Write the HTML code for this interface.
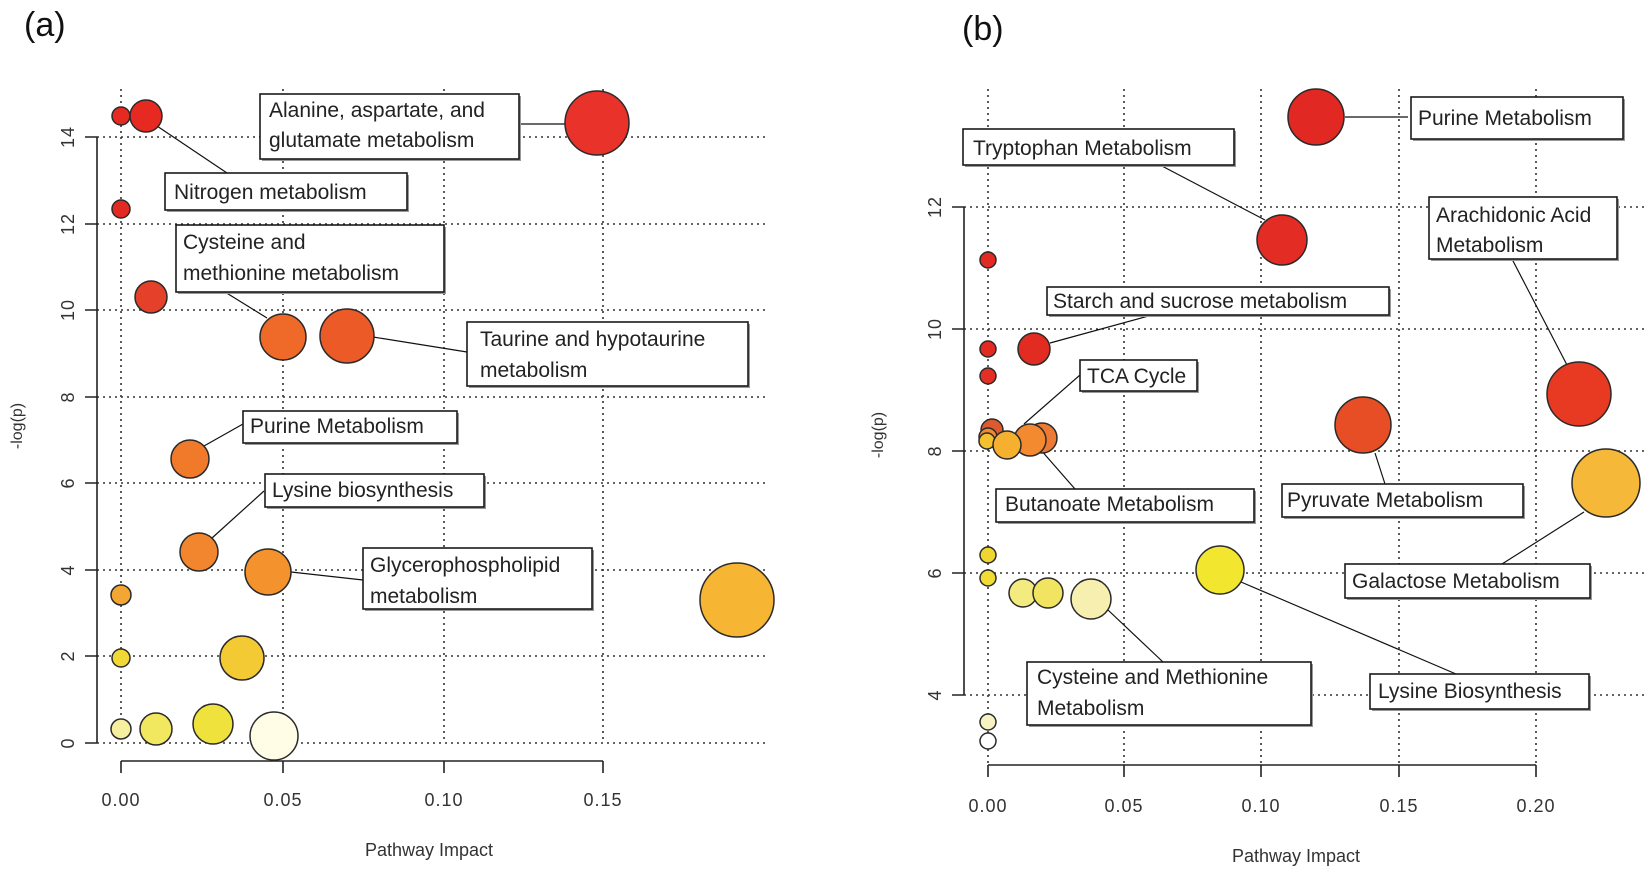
<!DOCTYPE html>
<html><head><meta charset="utf-8"><style>
html,body{margin:0;padding:0;background:#fff;}
svg{display:block;}
text{font-family:"Liberation Sans",sans-serif;}
.g{stroke:#333;stroke-width:1.6;stroke-dasharray:2,4;fill:none;}
.ax{stroke:#222;stroke-width:1.6;fill:none;}
.tk{font-size:18px;fill:#333;letter-spacing:1px;}
.lb{font-size:21px;fill:#222;}
.bx{fill:#fff;stroke:#1a1a1a;stroke-width:1.6;}
.sh{fill:#999;}
.ln{stroke:#111;stroke-width:1.2;}
circle{stroke:#2a2a2a;stroke-width:1.5;}
</style></head><body>
<svg width="1650" height="874" viewBox="0 0 1650 874" xmlns="http://www.w3.org/2000/svg">
<rect width="1650" height="874" fill="#fff"/>
<text x="24" y="36" font-size="34" fill="#111">(a)</text>
<g class="g">
<line x1="121" y1="89" x2="121" y2="743"/>
<line x1="283" y1="89" x2="283" y2="743"/>
<line x1="444" y1="89" x2="444" y2="743"/>
<line x1="603" y1="89" x2="603" y2="743"/>
<line x1="97" y1="743" x2="768" y2="743"/>
<line x1="97" y1="656" x2="768" y2="656"/>
<line x1="97" y1="570" x2="768" y2="570"/>
<line x1="97" y1="483" x2="768" y2="483"/>
<line x1="97" y1="397" x2="768" y2="397"/>
<line x1="97" y1="310" x2="768" y2="310"/>
<line x1="97" y1="224" x2="768" y2="224"/>
<line x1="97" y1="137" x2="768" y2="137"/>
</g>
<path class="ax" d="M97,137 V743 M85,743 H97 M85,656 H97 M85,570 H97 M85,483 H97 M85,397 H97 M85,310 H97 M85,224 H97 M85,137 H97"/>
<path class="ax" d="M121,761 H603 M121,761 V773 M283,761 V773 M444,761 V773 M603,761 V773"/>
<g class="tk" text-anchor="middle">
<text x="121" y="806">0.00</text><text x="283" y="806">0.05</text><text x="444" y="806">0.10</text><text x="603" y="806">0.15</text>
<text transform="translate(74,743) rotate(-90)">0</text>
<text transform="translate(74,656) rotate(-90)">2</text>
<text transform="translate(74,570) rotate(-90)">4</text>
<text transform="translate(74,483) rotate(-90)">6</text>
<text transform="translate(74,397) rotate(-90)">8</text>
<text transform="translate(74,310) rotate(-90)">10</text>
<text transform="translate(74,224) rotate(-90)">12</text>
<text transform="translate(74,137) rotate(-90)">14</text>
</g>
<text x="429" y="856" font-size="18" fill="#333" text-anchor="middle">Pathway Impact</text>
<text transform="translate(22,426) rotate(-90)" font-size="16" fill="#333" text-anchor="middle">-log(p)</text>
<g class="ln">
<line x1="519" y1="124" x2="566" y2="124"/>
<line x1="154" y1="124" x2="227" y2="173"/>
<line x1="225" y1="292" x2="267" y2="318"/>
<line x1="373" y1="337" x2="467" y2="352"/>
<line x1="204" y1="446" x2="243" y2="424"/>
<line x1="212" y1="538" x2="264" y2="491"/>
<line x1="291" y1="572" x2="363" y2="580"/>
</g>
<circle cx="121" cy="116" r="9" fill="#e62a22"/>
<circle cx="146" cy="116" r="16" fill="#e62a22"/>
<circle cx="597" cy="123" r="32" fill="#e8322a"/>
<circle cx="121" cy="209" r="9" fill="#e22a22"/>
<circle cx="151" cy="297" r="16" fill="#e4402a"/>
<circle cx="283" cy="337" r="23" fill="#ef6a28"/>
<circle cx="347" cy="336" r="27" fill="#ec5a28"/>
<circle cx="190" cy="459" r="19" fill="#f07a2a"/>
<circle cx="199" cy="552" r="19" fill="#f2862e"/>
<circle cx="268" cy="572" r="23" fill="#f4922e"/>
<circle cx="121" cy="595" r="10" fill="#f3a634"/>
<circle cx="737" cy="600" r="37" fill="#f6b533"/>
<circle cx="121" cy="658" r="9" fill="#f2d834"/>
<circle cx="242" cy="658" r="22" fill="#f4ca34"/>
<circle cx="121" cy="729" r="10" fill="#f7efa0"/>
<circle cx="156" cy="729" r="16" fill="#f2e860"/>
<circle cx="213" cy="724" r="20" fill="#f0e23c"/>
<circle cx="274" cy="736" r="24" fill="#fffde6"/>
<g>
<rect class="sh" x="262" y="96" width="259" height="65"/><rect class="bx" x="260" y="94" width="259" height="65"/>
<text class="lb" x="269" y="117">Alanine, aspartate, and</text><text class="lb" x="269" y="147">glutamate metabolism</text>
<rect class="sh" x="167" y="175" width="242" height="37"/><rect class="bx" x="165" y="173" width="242" height="37"/>
<text class="lb" x="174" y="199">Nitrogen metabolism</text>
<rect class="sh" x="178" y="227" width="268" height="67"/><rect class="bx" x="176" y="225" width="268" height="67"/>
<text class="lb" x="183" y="249">Cysteine and</text><text class="lb" x="183" y="280">methionine metabolism</text>
<rect class="sh" x="469" y="324" width="281" height="64"/><rect class="bx" x="467" y="322" width="281" height="64"/>
<text class="lb" x="480" y="346">Taurine and hypotaurine</text><text class="lb" x="480" y="377">metabolism</text>
<rect class="sh" x="245" y="413" width="214" height="32"/><rect class="bx" x="243" y="411" width="214" height="32"/>
<text class="lb" x="250" y="433">Purine Metabolism</text>
<rect class="sh" x="267" y="476" width="219" height="33"/><rect class="bx" x="265" y="474" width="219" height="33"/>
<text class="lb" x="272" y="497">Lysine biosynthesis</text>
<rect class="sh" x="365" y="550" width="229" height="61"/><rect class="bx" x="363" y="548" width="229" height="61"/>
<text class="lb" x="370" y="572">Glycerophospholipid</text><text class="lb" x="370" y="603">metabolism</text>
</g>

<text x="962" y="40" font-size="34" fill="#111">(b)</text>
<g class="g">
<line x1="988" y1="89" x2="988" y2="765"/>
<line x1="1124" y1="89" x2="1124" y2="765"/>
<line x1="1261" y1="89" x2="1261" y2="765"/>
<line x1="1399" y1="89" x2="1399" y2="765"/>
<line x1="1536" y1="89" x2="1536" y2="765"/>
<line x1="964" y1="695" x2="1648" y2="695"/>
<line x1="964" y1="573" x2="1648" y2="573"/>
<line x1="964" y1="451" x2="1648" y2="451"/>
<line x1="964" y1="329" x2="1648" y2="329"/>
<line x1="964" y1="207" x2="1648" y2="207"/>
</g>
<path class="ax" d="M964,207 V695 M952,695 H964 M952,573 H964 M952,451 H964 M952,329 H964 M952,207 H964"/>
<path class="ax" d="M988,765 H1536 M988,765 V777 M1124,765 V777 M1261,765 V777 M1399,765 V777 M1536,765 V777"/>
<g class="tk" text-anchor="middle">
<text x="988" y="812">0.00</text><text x="1124" y="812">0.05</text><text x="1261" y="812">0.10</text><text x="1399" y="812">0.15</text><text x="1536" y="812">0.20</text>
<text transform="translate(941,695) rotate(-90)">4</text>
<text transform="translate(941,573) rotate(-90)">6</text>
<text transform="translate(941,451) rotate(-90)">8</text>
<text transform="translate(941,329) rotate(-90)">10</text>
<text transform="translate(941,207) rotate(-90)">12</text>
</g>
<text x="1296" y="862" font-size="18" fill="#333" text-anchor="middle">Pathway Impact</text>
<text transform="translate(883,435) rotate(-90)" font-size="16" fill="#333" text-anchor="middle">-log(p)</text>
<g class="ln">
<line x1="1345" y1="117" x2="1408" y2="117"/>
<line x1="1160" y1="165" x2="1265" y2="220"/>
<line x1="1512" y1="259" x2="1567" y2="365"/>
<line x1="1050" y1="343" x2="1152" y2="315"/>
<line x1="1024" y1="424" x2="1080" y2="375"/>
<line x1="1040" y1="449" x2="1075" y2="489"/>
<line x1="1375" y1="453" x2="1385" y2="484"/>
<line x1="1502" y1="564" x2="1584" y2="512"/>
<line x1="1241" y1="582" x2="1456" y2="674"/>
<line x1="1108" y1="610" x2="1163" y2="662"/>
</g>
<circle cx="1316" cy="117" r="28" fill="#e12822"/>
<circle cx="1282" cy="240" r="25" fill="#e22c24"/>
<circle cx="988" cy="260" r="8" fill="#e22a22"/>
<circle cx="1034" cy="349" r="16" fill="#e22c22"/>
<circle cx="988" cy="349" r="8" fill="#e22a22"/>
<circle cx="988" cy="376" r="8" fill="#e43024"/>
<circle cx="1579" cy="394" r="32" fill="#e83a22"/>
<circle cx="1363" cy="425" r="28" fill="#e84e25"/>
<circle cx="992" cy="430" r="11" fill="#dc5a30"/>
<circle cx="988" cy="437" r="9" fill="#f08a30"/>
<circle cx="987" cy="441" r="8" fill="#f5c030"/>
<circle cx="1042" cy="438" r="15" fill="#ec7a35"/>
<circle cx="1030" cy="440" r="16" fill="#f38a30"/>
<circle cx="1007" cy="445" r="14" fill="#f6b030"/>
<circle cx="1606" cy="483" r="34" fill="#f6b838"/>
<circle cx="988" cy="555" r="8" fill="#f0d630"/>
<circle cx="988" cy="578" r="8" fill="#f0dc34"/>
<circle cx="1220" cy="570" r="24" fill="#f2e62e"/>
<circle cx="1023" cy="593" r="14" fill="#f3ea80"/>
<circle cx="1048" cy="593" r="15" fill="#f0e460"/>
<circle cx="1091" cy="599" r="20" fill="#f6efb0"/>
<circle cx="988" cy="722" r="8" fill="#f6f2c4"/>
<circle cx="988" cy="741" r="8" fill="#ffffff"/>
<g>
<rect class="sh" x="1413" y="99" width="212" height="42"/><rect class="bx" x="1411" y="97" width="212" height="42"/>
<text class="lb" x="1418" y="125">Purine Metabolism</text>
<rect class="sh" x="965" y="131" width="271" height="36"/><rect class="bx" x="963" y="129" width="271" height="36"/>
<text class="lb" x="973" y="155">Tryptophan Metabolism</text>
<rect class="sh" x="1431" y="199" width="188" height="62"/><rect class="bx" x="1429" y="197" width="188" height="62"/>
<text class="lb" x="1436" y="222">Arachidonic Acid</text><text class="lb" x="1436" y="252">Metabolism</text>
<rect class="sh" x="1049" y="289" width="342" height="28"/><rect class="bx" x="1047" y="287" width="342" height="28"/>
<text class="lb" x="1053" y="308">Starch and sucrose metabolism</text>
<rect class="sh" x="1082" y="362" width="117" height="31"/><rect class="bx" x="1080" y="360" width="117" height="31"/>
<text class="lb" x="1087" y="383">TCA Cycle</text>
<rect class="sh" x="998" y="491" width="258" height="33"/><rect class="bx" x="996" y="489" width="258" height="33"/>
<text class="lb" x="1005" y="511">Butanoate Metabolism</text>
<rect class="sh" x="1284" y="486" width="241" height="33"/><rect class="bx" x="1282" y="484" width="241" height="33"/>
<text class="lb" x="1287" y="507">Pyruvate Metabolism</text>
<rect class="sh" x="1347" y="566" width="245" height="34"/><rect class="bx" x="1345" y="564" width="245" height="34"/>
<text class="lb" x="1352" y="588">Galactose Metabolism</text>
<rect class="sh" x="1372" y="676" width="219" height="35"/><rect class="bx" x="1370" y="674" width="219" height="35"/>
<text class="lb" x="1378" y="698">Lysine Biosynthesis</text>
<rect class="sh" x="1029" y="664" width="284" height="63"/><rect class="bx" x="1027" y="662" width="284" height="63"/>
<text class="lb" x="1037" y="684">Cysteine and Methionine</text><text class="lb" x="1037" y="715">Metabolism</text>
</g>
</svg>
</body></html>
